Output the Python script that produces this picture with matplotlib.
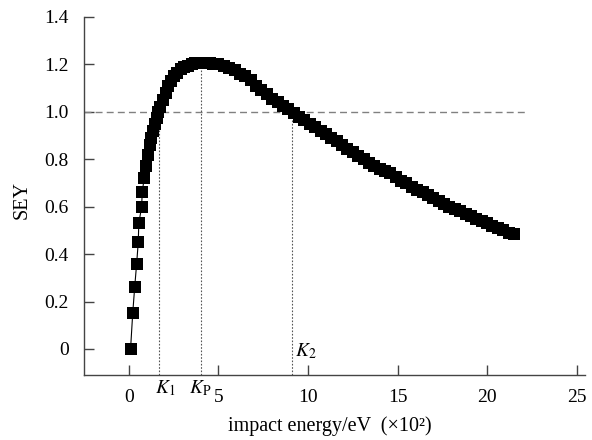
import matplotlib
matplotlib.use('Agg')
import matplotlib.pyplot as plt

plt.rcParams['font.family'] = ['Liberation Serif', 'DejaVu Serif']
plt.rcParams['mathtext.fontset'] = 'stix'

# SEY curve (energy in units of 100 eV)
energy = [0.09, 0.21, 0.32, 0.43, 0.52, 0.55, 0.71, 0.74, 0.85, 0.95, 1.05, 1.15,
          1.25, 1.35, 1.45, 1.55, 1.65, 1.75, 1.9, 2.05, 2.2, 2.35, 2.5, 2.7,
          2.9, 3.1, 3.3, 3.5, 3.7, 3.9, 4.1, 4.3, 4.5, 4.7, 5.0, 5.3, 5.6, 5.9,
          6.2, 6.5, 6.8, 7.1, 7.4, 7.7, 8.0, 8.3, 8.6, 8.9, 9.2, 9.5, 9.8, 10.1,
          10.4, 10.7, 11.0, 11.3, 11.6, 11.9, 12.2, 12.5, 12.8, 13.1, 13.4, 13.7,
          14.0, 14.3, 14.6, 14.9, 15.2, 15.5, 15.8, 16.1, 16.4, 16.7, 17.0, 17.3,
          17.6, 17.9, 18.2, 18.5, 18.8, 19.1, 19.4, 19.7, 20.0, 20.3, 20.6, 20.9,
          21.2, 21.5]
sey = [0.0, 0.15, 0.26, 0.36, 0.45, 0.53, 0.60, 0.66, 0.72, 0.77, 0.82, 0.86,
       0.89, 0.92, 0.95, 0.975, 1.0, 1.02, 1.05, 1.08, 1.11, 1.13, 1.15, 1.165,
       1.18, 1.19, 1.195, 1.2, 1.205, 1.205, 1.205, 1.205, 1.205, 1.2, 1.2, 1.195,
       1.185, 1.175, 1.16, 1.15, 1.135, 1.11, 1.09, 1.075, 1.055, 1.04, 1.025,
       1.01, 0.995, 0.98, 0.965, 0.95, 0.935, 0.92, 0.905, 0.89, 0.875, 0.86,
       0.845, 0.83, 0.815, 0.80, 0.785, 0.77, 0.76, 0.75, 0.74, 0.725, 0.71,
       0.70, 0.685, 0.67, 0.66, 0.648, 0.635, 0.622, 0.61, 0.60, 0.59, 0.58,
       0.57, 0.56, 0.55, 0.54, 0.53, 0.52, 0.51, 0.50, 0.49, 0.483]

# characteristic energies
k1, kp, k2 = 1.7, 4.05, 9.1
k1_y, kp_y, k2_y = 1.0, 1.205, 1.0

xticks = [0, 5, 10, 15, 20, 25]
yticks = [0, 0.2, 0.4, 0.6, 0.8, 1.0, 1.2, 1.4]
ytick_labels = ['0', '0.2', '0.4', '0.6', '0.8', '1.0', '1.2', '1.4']

fig = plt.figure(figsize=(5.92, 4.40), dpi=100)
ax = fig.add_axes([0.1419, 0.1477, 0.8463, 0.8137])

ax.plot(energy, sey, color='black', lw=0.8, marker='s', markersize=8,
        markeredgewidth=0, zorder=5)

# reference lines
ax.plot([-2.51, 22.3], [1.0, 1.0], color='#808080', lw=1.0, dashes=(5, 3), zorder=2)
ybot = -0.11
for xv, yv in [(k1, k1_y), (kp, kp_y), (k2, k2_y)]:
    ax.plot([xv, xv], [ybot, yv], color='#555555', lw=0.8, dashes=(1.5, 1.5), zorder=2)

ax.text(2.0, -0.165, '$K_1$', fontsize=14, ha='center', va='center', clip_on=False)
ax.text(4.0, -0.165, r'$K_{\mathrm{P}}$', fontsize=14, ha='center', va='center', clip_on=False)
ax.text(9.85, -0.01, '$K_2$', fontsize=14, ha='center', va='center')

ax.set_xlim(-2.51, 25.47)
ax.set_ylim(ybot, 1.4)
ax.set_xticks(xticks)
ax.set_yticks(yticks)
ax.set_yticklabels(ytick_labels)
ax.tick_params(direction='in', length=7, width=1, color='#444444',
               labelsize=14, pad=11)
ax.tick_params(axis='x', pad=10)

for side in ['top', 'right']:
    ax.spines[side].set_visible(False)
for side in ['left', 'bottom']:
    ax.spines[side].set_color('#444444')
    ax.spines[side].set_linewidth(1)

ax.set_xlabel('impact energy/eV  (×10²)', fontsize=14.5)
ax.set_ylabel('SEY', fontsize=14.5)
ax.xaxis.set_label_coords(0.49, -0.115)
ax.yaxis.set_label_coords(-0.104, 0.49)

fig.savefig('out.png', dpi=100)
